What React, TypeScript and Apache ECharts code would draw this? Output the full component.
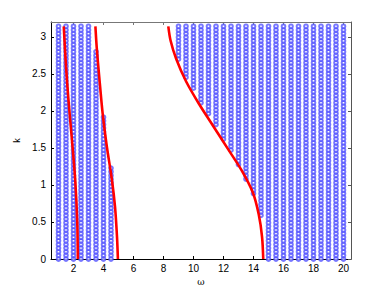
import React, { useEffect, useRef } from "react";
import * as echarts from "echarts";

// Column positions (ω) of the sampled points and the k-range covered in each column
const omegaCols = [1, 1.5, 2, 2.5, 3, 3.5, 4, 4.5, 9, 9.5, 10, 10.5, 11, 11.5, 12, 12.5, 13, 13.5, 14, 14.5, 15, 15.5, 16, 16.5, 17, 17.5, 18, 18.5, 19, 19.5, 20];
const colKMin = [0, 0, 0, 0, 0, 0, 0, 0, 2.69, 2.45, 2.27, 2.09, 1.92, 1.78, 1.59, 1.43, 1.25, 1.07, 0.88, 0.58, 0, 0, 0, 0, 0, 0, 0, 0, 0, 0, 0];
const colKMax = [3.1416, 3.1416, 3.1416, 3.1416, 3.1416, 2.83, 1.94, 1.25, 3.1416, 3.1416, 3.1416, 3.1416, 3.1416, 3.1416, 3.1416, 3.1416, 3.1416, 3.1416, 3.1416, 3.1416, 3.1416, 3.1416, 3.1416, 3.1416, 3.1416, 3.1416, 3.1416, 3.1416, 3.1416, 3.1416, 3.1416];
// sampling of k along each column (0 .. π)
const kSamples = 64;
const kTop = 3.1416;

// Red dispersion curves: [ω, k]
const curve1: [number, number][] = [[2.29, 0], [2.25, 0.5], [2.12, 1.05], [1.9, 1.6], [1.66, 2.16], [1.5, 2.6], [1.35, 3.14]];
const curve2: [number, number][] = [[4.96, 0], [4.9, 0.3], [4.77, 0.7], [4.56, 1.07], [4.2, 1.55], [3.94, 1.97], [3.72, 2.45], [3.55, 2.85], [3.46, 3.14]];
const curve3: [number, number][] = [[14.65, 0], [14.57, 0.3], [14.35, 0.6], [13.95, 0.9], [13.2, 1.2], [12.25, 1.5], [11.3, 1.8], [10.35, 2.1], [9.5, 2.4], [8.85, 2.7], [8.47, 2.95], [8.32, 3.14]];

const xTicks = [2, 4, 6, 8, 10, 12, 14, 16, 18, 20];
const yTicks = [0, 0.5, 1, 1.5, 2, 2.5, 3];

export default function App() {
  const ref = useRef<HTMLDivElement>(null);
  useEffect(() => {
    if (!ref.current) return;
    const chart = echarts.init(ref.current, null, { renderer: "svg" });
    const pts: [number, number][] = [];
    omegaCols.forEach((w, i) => {
      for (let j = 0; j <= kSamples; j++) {
        const k = (kTop * j) / kSamples;
        if (k >= colKMin[i] - 1e-6 && k <= colKMax[i] + 1e-6) pts.push([w, k]);
      }
    });
    const font = "'Liberation Sans', Arial, Helvetica, sans-serif";
    const axisCommon = {
      type: "value" as const,
      splitLine: { show: false },
    };
    chart.setOption({
      animation: false,
      backgroundColor: "#ffffff",
      grid: { left: 51, top: 22, right: 37, bottom: 33, containLabel: false },
      xAxis: [
        {
          ...axisCommon,
          position: "bottom",
          min: 0.5,
          max: 20.5,
          name: "ω",
          nameLocation: "middle",
          nameGap: 12,
          nameTextStyle: { fontFamily: "'DejaVu Serif', serif", fontSize: 9, color: "#000", verticalAlign: "top" },
          axisLine: { show: true, onZero: false, lineStyle: { color: "#000", width: 1 } },
          axisTick: { show: true, inside: true, length: 3, customValues: xTicks, lineStyle: { color: "#000" } },
          axisLabel: { customValues: xTicks, color: "#000", fontSize: 10, fontFamily: font, margin: 4 },
        },
        {
          ...axisCommon,
          position: "top",
          min: 0.5,
          max: 20.5,
          axisLine: { show: true, onZero: false, lineStyle: { color: "#777", width: 1 } },
          axisTick: { show: true, inside: true, length: 3, customValues: xTicks, lineStyle: { color: "#777" } },
          axisLabel: { show: false },
        },
      ],
      yAxis: [
        {
          ...axisCommon,
          position: "left",
          min: 0,
          max: 3.2,
          name: "k",
          nameLocation: "middle",
          nameGap: 12,
          nameRotate: 90,
          nameTextStyle: { fontFamily: font, fontSize: 9, color: "#000", verticalAlign: "bottom" },
          axisLine: { show: true, onZero: false, lineStyle: { color: "#000", width: 1 } },
          axisTick: { show: true, inside: true, length: 3, customValues: yTicks, lineStyle: { color: "#000" } },
          axisLabel: { customValues: yTicks, color: "#000", fontSize: 10, fontFamily: font, margin: 5 },
        },
        {
          ...axisCommon,
          position: "right",
          min: 0,
          max: 3.2,
          axisLine: { show: true, onZero: false, lineStyle: { color: "#555", width: 1 } },
          axisTick: { show: true, inside: true, length: 3, customValues: yTicks, lineStyle: { color: "#555" } },
          axisLabel: { show: false },
        },
      ],
      series: [
        {
          type: "scatter",
          data: pts,
          symbol: "emptyCircle",
          symbolSize: 3.7,
          itemStyle: { color: "#4a4aff", borderColor: "#4a4aff", borderWidth: 0.45, opacity: 0.75 },
          silent: true,
          z: 2,
        },
        ...[curve1, curve2, curve3].map((c) => ({
          type: "line",
          data: c,
          smooth: 0.3,
          showSymbol: false,
          symbol: "none",
          lineStyle: { color: "#ff0000", width: 2.6 },
          silent: true,
          z: 3,
        })),
      ],
    });
    return () => chart.dispose();
  }, []);
  return (
    <div
      ref={ref}
      style={{ position: "fixed", left: 0, top: 0, width: 388, height: 292, background: "#fff" }}
    />
  );
}
